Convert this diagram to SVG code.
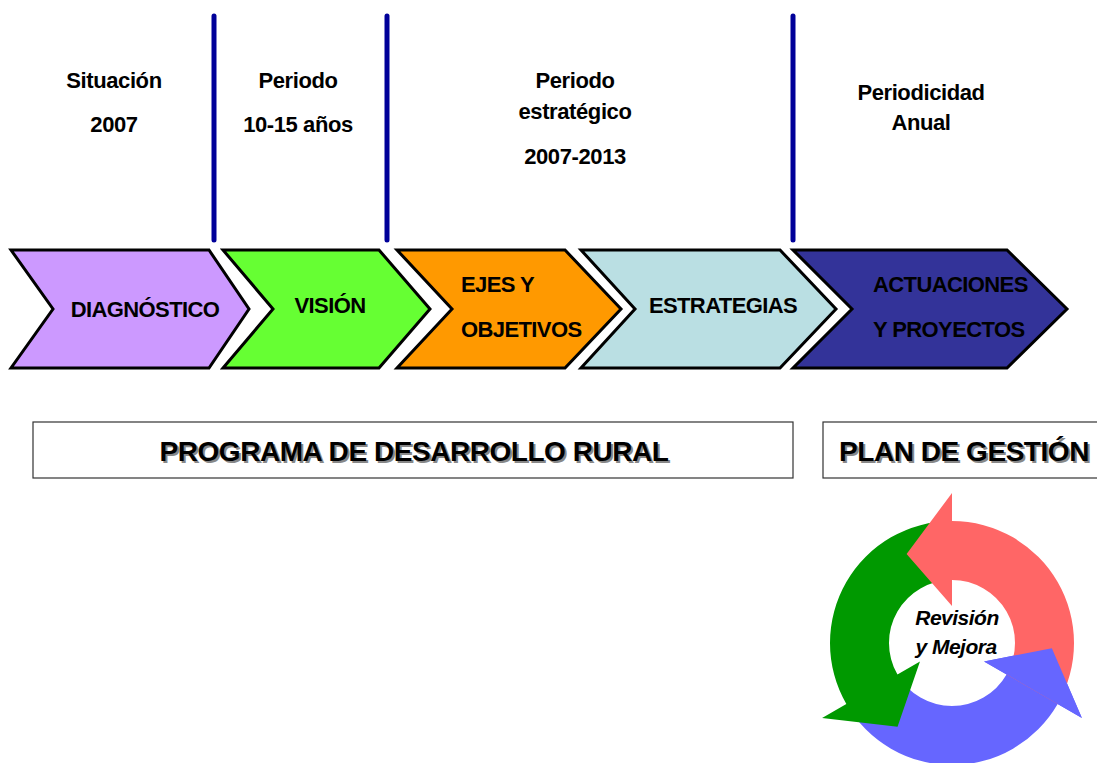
<svg xmlns="http://www.w3.org/2000/svg" width="1097" height="763" viewBox="0 0 1097 763">
<style>
.lbl{font-family:"Liberation Sans",Arial,sans-serif;font-weight:bold;font-size:22px;fill:#000;text-anchor:middle;letter-spacing:-0.4px}
.chev{stroke:#000;stroke-width:3;stroke-linejoin:miter}
.ct{font-family:"Liberation Sans",Arial,sans-serif;font-weight:bold;font-size:22px;fill:#000;letter-spacing:-0.6px}
.sep{stroke:#000099;stroke-width:5;stroke-linecap:round}
.box{fill:#fff;stroke:#333;stroke-width:1.2}
.bt{font-family:"Liberation Sans",Arial,sans-serif;font-weight:bold;font-size:28px;text-anchor:middle;letter-spacing:-0.45px}
.cyc{font-family:"Liberation Sans",Arial,sans-serif;font-weight:bold;font-style:italic;font-size:21px;fill:#000;text-anchor:middle;letter-spacing:-0.5px}
</style>

<g id="separators">
<line class="sep" x1="214" y1="16" x2="214" y2="240"/>
<line class="sep" x1="387" y1="16" x2="387" y2="240"/>
<line class="sep" x1="793" y1="16" x2="793" y2="240"/>
</g>

<g id="period-labels">
<text class="lbl" x="114" y="88">Situación</text>
<text class="lbl" x="114" y="132">2007</text>
<text class="lbl" x="298" y="88">Periodo</text>
<text class="lbl" x="298" y="132">10-15 años</text>
<text class="lbl" x="575" y="88">Periodo</text>
<text class="lbl" x="575" y="119">estratégico</text>
<text class="lbl" x="575" y="164">2007-2013</text>
<text class="lbl" x="921" y="100">Periodicidad</text>
<text class="lbl" x="921" y="130">Anual</text>
</g>

<g id="node-diagnostico">
<polygon class="chev" fill="#CC99FF" points="11,250 209,250 249,309 209,368 11,368 53,309"/>
<text class="ct" x="145" y="317" text-anchor="middle">DIAGNÓSTICO</text>
</g>
<g id="node-vision">
<polygon class="chev" fill="#66FF33" points="223,250 379,250 430,309 379,368 223,368 273,309"/>
<text class="ct" x="330" y="313" text-anchor="middle">VISIÓN</text>
</g>
<g id="node-ejes">
<polygon class="chev" fill="#FF9900" points="397,250 565,250 621,309 565,368 397,368 452,309"/>
<text class="ct" x="461" y="292">EJES Y</text>
<text class="ct" x="461" y="337">OBJETIVOS</text>
</g>
<g id="node-estrategias">
<polygon class="chev" fill="#BADFE3" points="581,250 780,250 836,309 780,368 581,368 635,309"/>
<text class="ct" x="723" y="313" text-anchor="middle">ESTRATEGIAS</text>
</g>
<g id="node-actuaciones">
<polygon class="chev" fill="#333399" points="793,250 1007,250 1067,309 1007,368 793,368 852,309"/>
<text class="ct" x="873" y="292">ACTUACIONES</text>
<text class="ct" x="873" y="337">Y PROYECTOS</text>
</g>

<g id="node-programa">
<rect class="box" x="33" y="422" width="760" height="56"/>
<text class="bt" x="416" y="463" fill="#888">PROGRAMA DE DESARROLLO RURAL</text>
<text class="bt" x="414" y="461" fill="#000">PROGRAMA DE DESARROLLO RURAL</text>
</g>
<g id="node-plan">
<rect class="box" x="823" y="422" width="290" height="56"/>
<text class="bt" x="966" y="463" fill="#888">PLAN DE GESTIÓN</text>
<text class="bt" x="964" y="461" fill="#000">PLAN DE GESTIÓN</text>
</g>

<g id="cycle">
<path fill="#6666FF" d="M846.34,704 A122,122 0 0 0 1057.66,704 L1081.9,718 L1051.86,648.23 L984.04,661.5 L1006.56,674.5 A63,63 0 0 1 897.44,674.5 Z"/>
<path fill="#009900" d="M952,521 A122,122 0 0 0 846.34,704 L822.1,718 L897.54,726.87 L919.96,661.5 L897.44,674.5 A63,63 0 0 1 952,580 Z"/>
<path fill="#FF6666" d="M1057.66,704 A122,122 0 0 0 952,521 L952,493 L906.6,553.9 L952,606 L952,580 A63,63 0 0 1 1006.56,674.5 Z"/>
<polygon fill="#6666FF" points="1081.9,718 1051.86,648.23 984.04,661.5"/>
<text class="cyc" x="957" y="625">Revisión</text>
<text class="cyc" x="956" y="654">y Mejora</text>
</g>
</svg>
